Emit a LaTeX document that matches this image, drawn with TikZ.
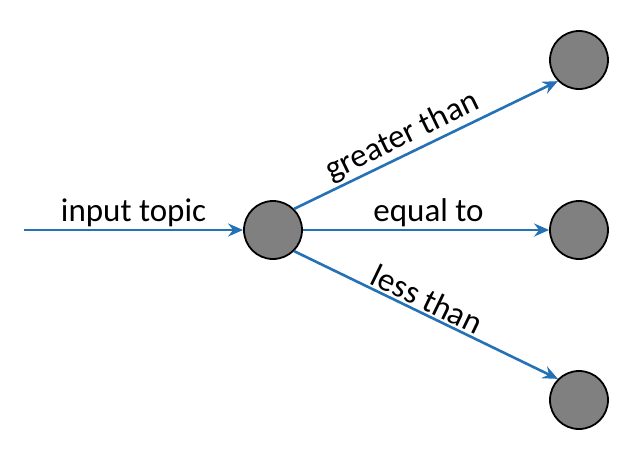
\documentclass[tikz,border=0pt]{standalone}
\usepackage{fontspec}
\setmainfont{Carlito}
\usetikzlibrary{positioning}
\usetikzlibrary{arrows.meta}
\definecolor{edgeblue}{RGB}{36,113,181}
\definecolor{nodegray}{RGB}{128,128,128}
\tikzset{
    topicnode/.style={
        circle,            % round topic node
        fill=nodegray,
        draw=black,
        line width=0.9pt,
        minimum size=29pt,
        inner sep=0
    },
    topicedge/.style={
        edgeblue,
        line width=1.3pt,
        -{Stealth[length=7.5pt, width=6.5pt, inset=2.5pt]}
    },
    edgelabel/.style={
        above,
        black,
        inner sep=1pt,
        font=\fontsize{16.5}{20}\selectfont
    }
}
\begin{document}
\begin{tikzpicture}[x=0.5pt, y=-0.5pt]
\useasboundingbox (0,0) rectangle (634,462);

% nodes
\node[topicnode] (src) at (273,230) {};
\node[topicnode] (gt) at (579,60) {};
\node[topicnode] (eq) at (579,230) {};
\node[topicnode] (lt) at (579,400) {};
\coordinate (in) at (24,230);

% edges
\draw[topicedge] (in) -- node[edgelabel] {input topic} (src);
\draw[topicedge] (src.north east) -- node[edgelabel, sloped, pos=0.44] {greater than} (gt.south west);
\draw[topicedge] (src) -- node[edgelabel, pos=0.51] {equal to} (eq);
\draw[topicedge] (src.south east) -- node[edgelabel, sloped, pos=0.48] {less than} (lt.north west);

\end{tikzpicture}
\end{document}
